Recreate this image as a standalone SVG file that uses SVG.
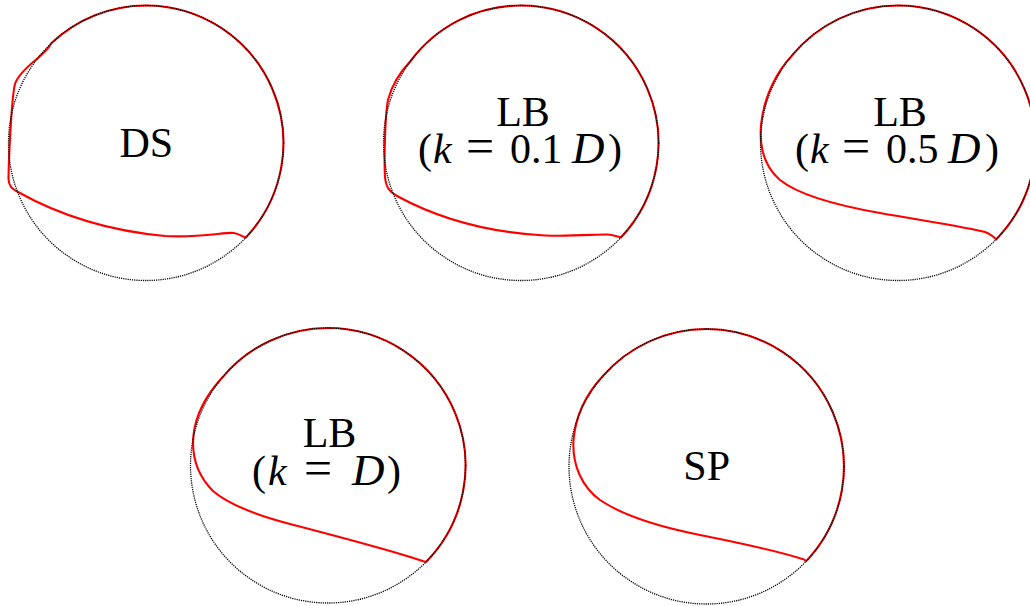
<svg xmlns="http://www.w3.org/2000/svg" width="1030" height="606" viewBox="0 0 1030 606">
<style>
.bg{fill:#ffffff}
.dot{fill:none;stroke:#000000;stroke-width:1.3;stroke-dasharray:1.2 1}
.shape{fill:none;stroke:#ff0000;stroke-width:2.1;stroke-linejoin:round;stroke-linecap:round}
.lbl{font-family:"Liberation Serif","Times New Roman",serif;font-size:42px;fill:#000000}
.mi{font-style:italic}
.big{font-size:45px}
.eq{font-size:50px}
</style>
<rect class="bg" x="0" y="0" width="1030" height="606"/>
<g id="ds">
<path class="shape" d="M245.7,237.6 A137.5,137.5 0 0 0 146,5.5 A137.5,137.5 0 0 0 51.5,43.1 C49,48 45,52 38,58 C28,66 18,75 15,84 C12,95 9,150 8.5,178 C8.3,186 12,189 18,192 C50,210 100,230 165,236 C200,238 225,232 234,233 C240,234 243,237 245.7,237.6 Z"/>
<circle class="dot" cx="146" cy="143" r="137.5"/>
<text class="lbl" x="146.3" y="157" text-anchor="middle">DS</text>
</g>
<g id="lb01">
<path class="shape" d="M620.9,237.5 A137.5,137.5 0 0 0 521,5.5 A137.5,137.5 0 0 0 410.6,61 C402,70 392,84 388,100 C385,115 384,160 385,177 C386,188 390,192 397,196 C430,214 480,232 545,235.5 C575,236.5 598,234 608,234.5 C614,235 617,236.5 620.9,237.5 Z"/>
<circle class="dot" cx="521" cy="143" r="137.5"/>
<text class="lbl"><tspan x="523" y="126" text-anchor="middle">LB</tspan><tspan x="418" y="163">(</tspan><tspan x="433" class="mi">k</tspan> <tspan x="466" class="eq">=</tspan> <tspan x="510">0.1</tspan> <tspan x="572" class="mi big">D</tspan><tspan x="608">)</tspan></text>
</g>
<g id="lb05">
<path class="shape" d="M996.1,239.4 A137.5,137.5 0 0 0 898,5.5 A137.5,137.5 0 0 0 792.1,55.4 C778,70 764,95 761,125 C759,150 766,168 780,180 C800,196 840,206 880,213 C925,221 970,228 985,232 C990,234 994,237 996.1,239.4 Z"/>
<circle class="dot" cx="898" cy="143" r="137.5"/>
<text class="lbl"><tspan x="900" y="126" text-anchor="middle">LB</tspan><tspan x="795" y="163">(</tspan><tspan x="810" class="mi">k</tspan> <tspan x="842" class="eq">=</tspan> <tspan x="886">0.5</tspan> <tspan x="948" class="mi big">D</tspan><tspan x="985">)</tspan></text>
</g>
<g id="lb1">
<path class="shape" d="M425.9,562.1 A137.5,137.5 0 0 0 328,328 A137.5,137.5 0 0 0 222.5,377.3 C208,393 196,412 193.5,435 C191.5,455 197,475 213,491 C230,506 260,516 290,524 C340,537 400,553 425.9,562.1 Z"/>
<circle class="dot" cx="328" cy="465.5" r="137.5"/>
<text class="lbl"><tspan x="329.5" y="447" text-anchor="middle">LB</tspan><tspan x="252" y="485">(</tspan><tspan x="268" class="mi">k</tspan> <tspan x="304" class="eq">=</tspan> <tspan x="352" class="mi big">D</tspan><tspan x="387">)</tspan></text>
</g>
<g id="sp">
<path class="shape" d="M806.2,561.1 A137.5,137.5 0 0 0 706.5,329 A137.5,137.5 0 0 0 602.7,376.3 C588,392 576,412 573.5,440 C572,465 582,487 600,500 C625,517 660,527 700,535 C740,543 780,552 800,558.3 C803,559 805,560 806.2,561.1 Z"/>
<circle class="dot" cx="706.5" cy="466.5" r="137.5"/>
<text class="lbl" x="706.7" y="480" text-anchor="middle">SP</text>
</g>
<g id="connectors"></g>
</svg>
